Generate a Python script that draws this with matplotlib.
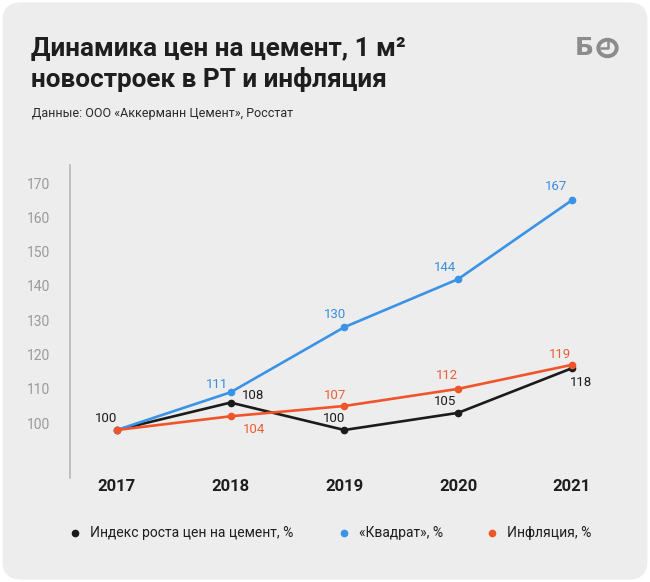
import matplotlib
matplotlib.use("Agg")
import matplotlib.pyplot as plt
from matplotlib.patches import FancyBboxPatch, Circle
from matplotlib.lines import Line2D
import matplotlib.transforms as mtransforms

years = [2017, 2018, 2019, 2020, 2021]
cement = [100, 108, 100, 105, 118]
kvadrat = [100, 111, 130, 144, 167]
inflation = [100, 104, 107, 112, 119]
yticks = [100, 110, 120, 130, 140, 150, 160, 170]

series_names = ["Индекс роста цен на цемент, %", "«Квадрат», %", "Инфляция, %"]
line_colors = ["#1b1b1b", "#3a93e6", "#f2542a"]
text_colors = ["#1b1b1b", "#3a8ee0", "#ea5e36"]

# label offsets in pixels (dx, dy) per point
cement_off = [(-11, 12), (23, 7), (-10, 12), (-13, 11), (9, -14)]
kvadrat_off = [None, (-14, 8), (-9, 13), (-13, 12), (-16, 14)]
inflation_off = [None, (23, -13), (-9, 11), (-11, 13), (-12, 10)]

plt.rcParams['font.family'] = ['Roboto', 'DejaVu Sans']

W, H = 650, 582
fig = plt.figure(figsize=(W / 100, H / 100), dpi=100)
fig.patch.set_facecolor("white")
bg = FancyBboxPatch((0.004, 0.004), 0.992, 0.992, boxstyle="round,pad=0,rounding_size=0.03",
                    transform=fig.transFigure, facecolor="#ededed", edgecolor="none", zorder=-10)
fig.patches.append(bg)


def fx(px):
    return px / W


def fy(py):
    return 1 - py / H


fig.text(fx(31), fy(49), "Динамика цен на цемент, 1 м²", fontsize=18.8, fontweight="bold",
         color="#1e1e1e", va="center")
fig.text(fx(31), fy(79), "новостроек в РТ и инфляция", fontsize=18.8, fontweight="bold",
         color="#1e1e1e", va="center")
fig.text(fx(32), fy(113), "Данные: ООО «Аккерманн Цемент», Росстат", fontsize=9,
         color="#2a2a2a", va="center")

# logo: Б + clock
logo_c = "#8c8c8c"
fig.text(fx(575), fy(48), "Б", fontsize=18, fontweight="bold", color=logo_c,
         va="center", family="DejaVu Sans")
fig.patches.append(Circle((fx(607.5), fy(48)), 9.2 / W, transform=fig.transFigure,
                          facecolor="none", edgecolor=logo_c, lw=2.8))
fig.add_artist(Line2D([fx(607.5), fx(607.5), fx(601)], [fy(41.5), fy(48), fy(48)],
                      transform=fig.transFigure, color=logo_c, lw=1.8))

ax = fig.add_axes([0.1077, 0.1787, 0.815, 0.5378])
ax.set_facecolor("none")
ax.set_xlim(2016.588, 2021.246)
ax.set_ylim(86.0, 177.3)

for vals, offs, lc, tc in [(cement, cement_off, line_colors[0], text_colors[0]),
                           (kvadrat, kvadrat_off, line_colors[1], text_colors[1]),
                           (inflation, inflation_off, line_colors[2], text_colors[2])]:
    ax.plot(years, vals, color=lc, lw=1.9, marker="o", ms=4.5, zorder=3)
    for x, y, off in zip(years, vals, offs):
        if off is None:
            continue
        ax.annotate(str(y), (x, y), xytext=off, textcoords="offset pixels",
                    ha="center", va="center", fontsize=9.5, color=tc)

for s in ["top", "right", "bottom"]:
    ax.spines[s].set_visible(False)
ax.spines["left"].set_color("#b8b8b8")
ax.spines["left"].set_linewidth(1.2)

ax.set_yticks(yticks)
ax.set_yticklabels([str(v) for v in yticks])
ax.tick_params(axis="y", length=0, pad=14, labelsize=10, labelcolor="#9a9a9a")
shift = mtransforms.ScaledTranslation(0, 7 / 100, fig.dpi_scale_trans)
for lab in ax.get_yticklabels():
    lab.set_transform(lab.get_transform() + shift)

ax.set_xticks(years)
ax.set_xticklabels([str(y) for y in years])
ax.tick_params(axis="x", length=0, pad=1, labelsize=12, labelcolor="#1e1e1e")
for lab in ax.get_xticklabels():
    lab.set_fontweight("bold")

# legend drawn by hand
leg_marker_x = [75, 344, 492]
for mx, name, c in zip(leg_marker_x, series_names, line_colors):
    fig.add_artist(Line2D([fx(mx)], [fy(533)], transform=fig.transFigure, linestyle="none",
                          marker="o", ms=4.5, color=c))
    fig.text(fx(mx + 15), fy(533), name, fontsize=10, color="#1e1e1e", va="center")

fig.savefig("out.png", dpi=100, facecolor=fig.get_facecolor())
